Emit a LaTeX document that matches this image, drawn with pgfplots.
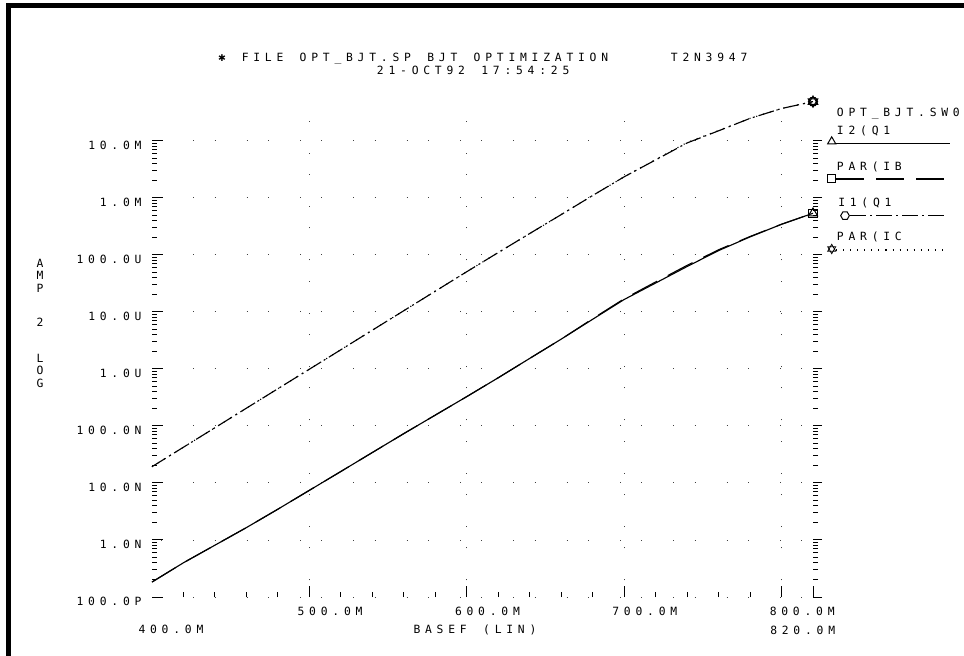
\documentclass[border=0pt]{standalone}
\usepackage{fontspec}
\setmainfont{DejaVu Sans Mono}
\newfontfamily\symfont{DejaVu Sans}
\usepackage{pgfplots}
\pgfplotsset{compat=1.18}
\usetikzlibrary{shapes.geometric}
\makeatletter
\protected\def\mono#1{\@tfor\m@c:=#1\do{\makebox[8.7pt][c]{\m@c}}}
\makeatother
\pgfdeclareplotmark{hexa}{%
\pgfpathmoveto{\pgfpointpolar{0}{\pgfplotmarksize}}%
\pgfpathlineto{\pgfpointpolar{60}{\pgfplotmarksize}}%
\pgfpathlineto{\pgfpointpolar{120}{\pgfplotmarksize}}%
\pgfpathlineto{\pgfpointpolar{180}{\pgfplotmarksize}}%
\pgfpathlineto{\pgfpointpolar{240}{\pgfplotmarksize}}%
\pgfpathlineto{\pgfpointpolar{300}{\pgfplotmarksize}}%
\pgfpathclose\pgfusepathqstroke}
\pgfdeclareplotmark{david}{%
\pgfpathmoveto{\pgfpointpolar{90}{\pgfplotmarksize}}%
\pgfpathlineto{\pgfpointpolar{210}{\pgfplotmarksize}}%
\pgfpathlineto{\pgfpointpolar{330}{\pgfplotmarksize}}%
\pgfpathclose
\pgfpathmoveto{\pgfpointpolar{270}{\pgfplotmarksize}}%
\pgfpathlineto{\pgfpointpolar{30}{\pgfplotmarksize}}%
\pgfpathlineto{\pgfpointpolar{150}{\pgfplotmarksize}}%
\pgfpathclose\pgfusepathqstroke}
\tikzset{
  solidc/.style={line width=0.85pt},
  dashc/.style={line width=0.85pt, dash pattern=on 21pt off 9pt},
  dashdotc/.style={line width=0.85pt, dash pattern=on 12pt off 3pt on 1.5pt off 3pt},
  dotc/.style={line width=0.85pt, dash pattern=on 0.8pt off 4.5pt},
}
\begin{document}
\fontsize{8.5}{10}\selectfont
\begin{tikzpicture}[font=\fontsize{8.5}{10}\selectfont]
\path[use as bounding box] (0,0) rectangle (723pt,492pt);
\begin{axis}[
  at={(114pt,44.25pt)}, anchor=south west,
  scale only axis, width=495.75pt, height=372pt,
  xmin=400, xmax=820, ymode=log, ymin=1e-10, ymax=5e-2,
  clip=false,
  axis line style={draw=none},
  tick align=inside,
  xtick pos=left, ytick pos=left,
  major tick length=8.25pt, minor tick length=3.5pt,
  tick style={black, line width=0.75pt},
  minor tick style={black, line width=0.75pt},
  xtick={500,600,700,800},
  xticklabels={\mono{500.0M},\mono{600.0M},\mono{700.0M},\mono{800.0M}},
  xticklabel style={anchor=north west, inner sep=0pt, xshift=-10.8pt, yshift=-7.5pt},
  minor xtick={420,440,460,480,520,540,560,580,620,640,660,680,720,740,760,780},
  extra x ticks={820}, extra x tick labels={},
  extra x tick style={grid=none},
  ytick={1e-10,1e-9,1e-8,1e-7,1e-6,1e-5,1e-4,1e-3,1e-2},
  yticklabels={\mono{100.0P},\mono{1.0N},\mono{10.0N},\mono{100.0N},\mono{1.0U},\mono{10.0U},\mono{100.0U},\mono{1.0M},\mono{10.0M}},
  yticklabel style={anchor=north east, inner sep=0pt, xshift=-5.9pt},
  xmajorgrids, ymajorgrids,
  x grid style={black!75, line width=0.7pt, dash pattern=on 0.7pt off 23.3pt on 0.7pt off 15.3pt, dash phase=27.5pt},
  y grid style={black!75, line width=0.7pt, dash pattern=on 0.7pt off 23.3pt on 0.7pt off 15.3pt, dash phase=32.95pt},
]
% I2(Q1  (base current, solid)
\addplot[black, solidc, mark=triangle, mark indices={22}, mark options={solid, line width=0.75pt}, mark size=4pt] table {
x y
400 1.83e-10
420 3.99e-10
440 8.11e-10
460 1.65e-9
480 3.47e-9
500 7.43e-9
520 1.59e-8
540 3.42e-8
560 7.34e-8
580 1.55e-7
600 3.27e-7
620 7.00e-7
640 1.53e-6
660 3.33e-6
680 7.43e-6
700 1.65e-5
720 3.21e-5
740 6.25e-5
760 1.19e-4
780 2.07e-4
800 3.44e-4
820 5.37e-4
};
% PAR(IB  (dashed)
\addplot[black, dashc, mark=square, mark indices={22}, mark options={solid, line width=0.75pt}, mark size=3.2pt] table {
x y
400 1.83e-10
420 3.99e-10
440 8.11e-10
460 1.65e-9
480 3.47e-9
500 7.43e-9
520 1.59e-8
540 3.42e-8
560 7.34e-8
580 1.55e-7
600 3.27e-7
620 7.00e-7
640 1.53e-6
660 3.33e-6
680 7.60e-6
700 1.70e-5
720 3.35e-5
740 6.55e-5
760 1.23e-4
780 2.10e-4
800 3.45e-4
820 5.37e-4
};
% I1(Q1  (collector current, dash-dot)
\addplot[black, dashdotc, mark=hexa, mark indices={22}, mark options={solid, line width=0.75pt}, mark size=3.5pt] table {
x y
400 1.93e-8
420 4.24e-8
440 9.31e-8
460 2.05e-7
480 4.50e-7
500 9.89e-7
520 2.17e-6
540 4.78e-6
560 1.05e-5
580 2.31e-5
600 5.07e-5
620 1.10e-4
640 2.37e-4
660 5.09e-4
680 1.10e-3
700 2.34e-3
720 4.63e-3
740 9.19e-3
760 1.50e-2
780 2.48e-2
800 3.69e-2
820 4.88e-2
};
% PAR(IC  (dotted)
\addplot[black, dotc, mark=david, mark indices={22}, mark options={solid, line width=0.75pt}, mark size=4.2pt] table {
x y
400 1.93e-8
420 4.24e-8
440 9.31e-8
460 2.05e-7
480 4.50e-7
500 9.89e-7
520 2.17e-6
540 4.78e-6
560 1.05e-5
580 2.31e-5
600 5.07e-5
620 1.10e-4
640 2.37e-4
660 5.09e-4
680 1.10e-3
700 2.34e-3
720 4.70e-3
740 9.35e-3
760 1.52e-2
780 2.48e-2
800 3.69e-2
820 4.88e-2
};
\end{axis}
% right-hand ruler
\begin{axis}[
  at={(114pt,44.25pt)}, anchor=south west,
  scale only axis, width=495.75pt, height=372pt,
  xmin=400, xmax=820, ymode=log, ymin=1e-10, ymax=5e-2,
  axis line style={draw=none},
  xtick=\empty,
  ytick={1e-10,1e-9,1e-8,1e-7,1e-6,1e-5,1e-4,1e-3,1e-2},
  ytick pos=right, yticklabel pos=right,
  yticklabels={,,,,,,,,},
  tick align=outside,
  major tick length=6.75pt, minor tick length=3.75pt,
  tick style={black, line width=0.75pt},
  minor tick style={black, line width=0.75pt},
]
\end{axis}
\begin{scope}[x=0.75pt,y=-0.75pt,yshift=492pt]
% frame
\fill[black] (6,3.3) rectangle (964,8.3);
\fill[black] (6,3.3) rectangle (11,656);
% title
\node[anchor=north west, inner sep=0pt] at (215.9,52.5) {\mono{{\symfont\scriptsize ✱}~FILE~OPT\_BJT.SP~BJT~OPTIMIZATION~~~~~T2N3947}};
\node[anchor=north west, inner sep=0pt] at (374.3,65.5) {\mono{21-OCT92~17:54:25}};
% x labels
\node[anchor=north west, inner sep=0pt] at (135.9,625) {\mono{400.0M}};
\node[anchor=north west, inner sep=0pt] at (767.6,626) {\mono{820.0M}};
\node[anchor=north west, inner sep=0pt] at (410.9,625) {\mono{BASEF~(LIN)}};
% y label
\node at (40,263) {A};
\node at (40,275.5) {M};
\node at (40,288) {P};
\node at (40,322) {2};
\node at (40,358) {L};
\node at (40,370.5) {O};
\node at (40,383.5) {G};
% legend
\node[anchor=north west, inner sep=0pt] at (834.3,108.3) {\mono{OPT\_BJT.SW0}};
\node[anchor=north west, inner sep=0pt] at (834.3,126) {\mono{I2(Q1}};
\draw[solidc] (836,143.3) -- (950,143.3);
\node[draw, line width=0.75pt, regular polygon, regular polygon sides=3, minimum size=7pt, inner sep=0pt] at (831.7,141.5) {};
\node[anchor=north west, inner sep=0pt] at (834.3,161.7) {\mono{PAR(IB}};
\draw[dashc] (836,179) -- (950,179);
\node[draw, line width=0.75pt, rectangle, minimum size=6pt, inner sep=0pt] at (831.7,179) {};
\node[anchor=north west, inner sep=0pt] at (835.6,197.3) {\mono{I1(Q1}};
\draw[dashdotc] (850,215.7) -- (946,215.7);
\node[draw, line width=0.75pt, regular polygon, regular polygon sides=6, minimum size=6.5pt, inner sep=0pt] at (845,215.7) {};
\node[anchor=north west, inner sep=0pt] at (834.3,231.7) {\mono{PAR(IC}};
\draw[dotc] (836,250) -- (946,250);
\node[draw, line width=0.6pt, regular polygon, regular polygon sides=3, minimum size=7pt, inner sep=0pt] at (831.7,249) {};
\node[draw, line width=0.6pt, regular polygon, regular polygon sides=3, shape border rotate=180, minimum size=7pt, inner sep=0pt] at (831.7,249) {};
\end{scope}
\end{tikzpicture}
\end{document}
